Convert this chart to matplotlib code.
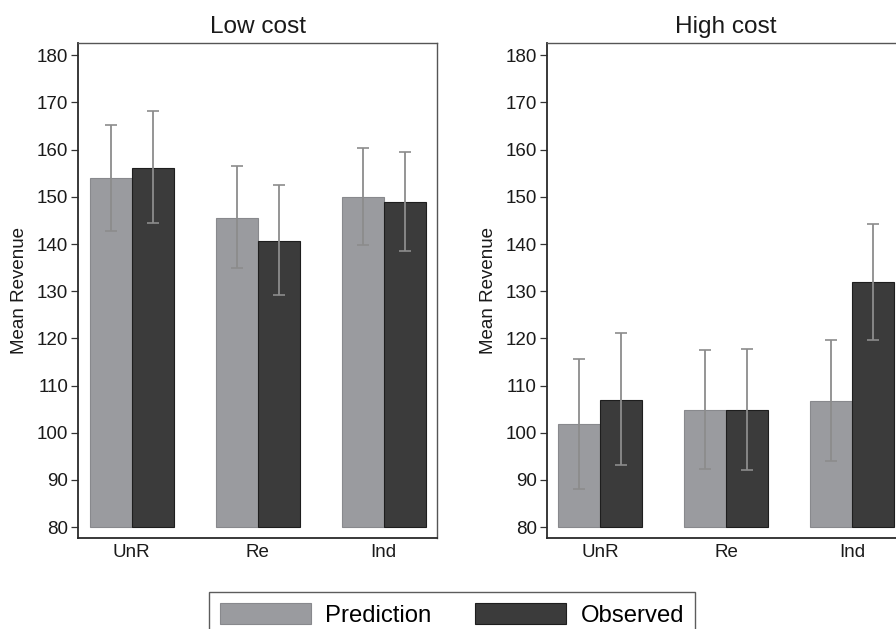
import matplotlib
matplotlib.use("Agg")
import matplotlib.pyplot as plt
import numpy as np

plt.rcParams['font.family'] = ['Liberation Sans', 'DejaVu Sans']

# categories and panels
groups = ['UnR', 'Re', 'Ind']
panels = ['Low cost', 'High cost']

# mean revenue
pred_low = [153.9, 145.6, 149.9]
obs_low = [156.2, 140.7, 149.0]
pred_high = [101.8, 104.8, 106.8]
obs_high = [107.0, 104.9, 131.9]

# error bar ends (upper, lower)
pred_low_hi = [165.3, 156.6, 160.3]
pred_low_lo = [142.8, 134.9, 139.8]
obs_low_hi = [168.2, 152.5, 159.5]
obs_low_lo = [144.5, 129.1, 138.6]
pred_high_hi = [115.6, 117.5, 119.7]
pred_high_lo = [88.1, 92.3, 94.0]
obs_high_hi = [121.1, 117.8, 144.2]
obs_high_lo = [93.2, 92.2, 119.7]

base = 80
pred_color = '#9a9b9f'
obs_color = '#3b3b3b'
err_color = '#8c8c8c'

fig = plt.figure(figsize=(8.96, 6.29), dpi=100)
ax1 = fig.add_axes([78 / 896, 91 / 629, 359 / 896, 495 / 629])
ax2 = fig.add_axes([546.7 / 896, 91 / 629, 359 / 896, 495 / 629])

data = [
    (ax1, pred_low, obs_low, pred_low_hi, pred_low_lo, obs_low_hi, obs_low_lo),
    (ax2, pred_high, obs_high, pred_high_hi, pred_high_lo, obs_high_hi, obs_high_lo),
]

x = np.arange(len(groups))
w = 0.333

for (ax, pv, ov, phi, plo, ohi, olo), title in zip(data, panels):
    pv = np.array(pv)
    ov = np.array(ov)
    ax.bar(x - w / 2, pv - base, w, bottom=base, color=pred_color,
           edgecolor='#88898d', linewidth=0.8, label='Prediction', zorder=2)
    ax.bar(x + w / 2, ov - base, w, bottom=base, color=obs_color,
           edgecolor='#1e1e1e', linewidth=0.8, label='Observed', zorder=2)
    perr = [pv - np.array(plo), np.array(phi) - pv]
    oerr = [ov - np.array(olo), np.array(ohi) - ov]
    ax.errorbar(x - w / 2, pv, yerr=perr, fmt='none', ecolor=err_color,
                elinewidth=1.3, capsize=4.2, capthick=1.2, zorder=3)
    ax.errorbar(x + w / 2, ov, yerr=oerr, fmt='none', ecolor=err_color,
                elinewidth=1.3, capsize=4.2, capthick=1.2, zorder=3)

    ax.set_xlim(-0.426, 2.423)
    ax.set_ylim(77.7, 182.6)
    ax.set_yticks(np.arange(80, 181, 10))
    ax.set_xticks(x)
    ax.set_xticklabels(groups, fontsize=13.5, color='#1a1a1a')
    ax.tick_params(axis='x', length=0, pad=4)
    ax.tick_params(axis='y', length=5, width=0.9, color='#333333',
                   labelsize=13.5, labelcolor='#1a1a1a', pad=2)
    ax.set_ylabel('Mean Revenue', fontsize=13.5, color='#1a1a1a')
    ax.yaxis.set_label_coords(-0.139, 0.5)
    ax.set_title(title, fontsize=17.6, color='#1a1a1a', pad=7)
    for side in ['left', 'bottom']:
        ax.spines[side].set_color('#2a2a2a')
        ax.spines[side].set_linewidth(1.3)
    for side in ['top', 'right']:
        ax.spines[side].set_color('#555555')
        ax.spines[side].set_linewidth(1.0)

handles, labels = ax1.get_legend_handles_labels()
leg = fig.legend(handles, labels, ncol=2, loc='upper left',
                 bbox_to_anchor=(209 / 896, 1 - 592 / 629),
                 fontsize=17.2, frameon=True, fancybox=False,
                 handlelength=3.8, handleheight=1.0, handletextpad=0.6,
                 columnspacing=1.85, borderpad=0.45, borderaxespad=0)
leg.get_frame().set_edgecolor('#333333')
leg.get_frame().set_linewidth(1.0)

fig.savefig('out.png', dpi=100)
